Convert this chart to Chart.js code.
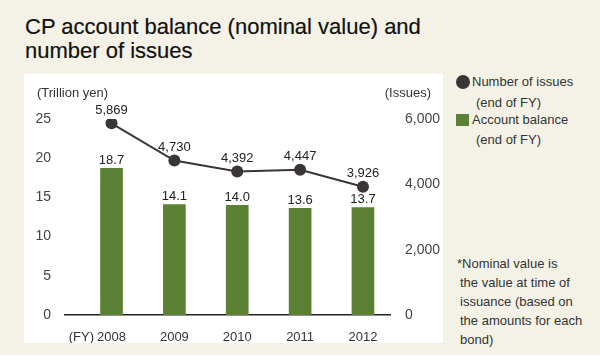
<!DOCTYPE html>
<html>
<head>
<meta charset="utf-8">
<script src="https://cdn.jsdelivr.net/npm/chart.js@4"></script>
<style>
  body { margin: 0; width: 600px; height: 355px; background: #f4f2e6; font-family: "Liberation Sans", Arial, sans-serif; position: relative; overflow: hidden; }
  #title { position: absolute; left: 25px; top: 15px; font-size: 22px; line-height: 24px; color: #111; -webkit-text-stroke: 0.2px #111; }
  #panel { position: absolute; left: 24px; top: 74px; width: 419px; height: 269px; background: #fff; }
  .txt { position: absolute; font-size: 13px; line-height: 19px; color: #333; white-space: nowrap; }
  .dot { position: absolute; left: 456px; top: 75px; width: 14px; height: 14px; border-radius: 50%; background: #3a3536; }
  .sq { position: absolute; left: 456px; top: 114px; width: 13px; height: 12px; background: #5b7f33; }
  #note span { display: block; padding-left: 3px; }
  #note span:first-child { padding-left: 0; }
</style>
</head>
<body>
<div id="title">CP account balance (nominal value) and<br>number of issues</div>
<div id="panel"><canvas id="chart" width="419" height="269"></canvas></div>

<div class="dot"></div>
<div class="txt" style="left:472px; top:72px;">Number of issues</div>
<div class="txt" style="left:476px; top:93px;">(end of FY)</div>
<div class="sq"></div>
<div class="txt" style="left:472px; top:110px;">Account balance</div>
<div class="txt" style="left:476px; top:130px;">(end of FY)</div>

<div class="txt" id="note" style="left:457px; top:254px;">
  <span>*Nominal value is</span>
  <span>the value at time of</span>
  <span>issuance (based on</span>
  <span>the amounts for each</span>
  <span>bond)</span>
</div>

<script>
// data
const years = [2008, 2009, 2010, 2011, 2012];
const balance = [18.7, 14.1, 14.0, 13.6, 13.7];   // trillion yen
const issues = [5869, 4730, 4392, 4447, 3926];     // number of issues
const fyLabelPos = 2007.52;

const green = '#5b7f33';
const dark = '#3a3536';

// value labels + axis unit titles
const labelPlugin = {
  id: 'valueLabels',
  afterDatasetsDraw(chart) {
    const ctx = chart.ctx;
    ctx.save();
    ctx.font = '13px "Liberation Sans", Arial, sans-serif';
    ctx.fillStyle = '#222';
    ctx.textAlign = 'center';
    ctx.textBaseline = 'middle';

    chart.getDatasetMeta(1).data.forEach((bar, i) => {
      ctx.fillText(balance[i].toFixed(1), bar.x, bar.y - 8);
    });
    chart.getDatasetMeta(0).data.forEach((pt, i) => {
      ctx.fillText(issues[i].toLocaleString('en-US'), pt.x, pt.y - 13);
    });

    ctx.fillStyle = '#333';
    ctx.textAlign = 'left';
    ctx.fillText('(Trillion yen)', 13, 19);
    ctx.textAlign = 'right';
    ctx.fillText('(Issues)', 407, 19);
    ctx.restore();
  }
};

const tickFont = { family: '"Liberation Sans", Arial, sans-serif', size: 13 };
const yTickFont = { family: '"Liberation Sans", Arial, sans-serif', size: 14 };

new Chart(document.getElementById('chart'), {
  data: {
    labels: years,
    datasets: [
      {
        type: 'line',
        label: 'Number of issues',
        data: issues,
        yAxisID: 'y2',
        borderColor: dark,
        borderWidth: 2,
        pointRadius: 6,
        pointBackgroundColor: dark,
        pointBorderWidth: 0,
        order: 0
      },
      {
        type: 'bar',
        label: 'Account balance',
        data: balance,
        yAxisID: 'y',
        backgroundColor: green,
        barThickness: 22,
        order: 1
      }
    ]
  },
  options: {
    responsive: false,
    animation: false,
    layout: { padding: { top: 45, left: 0, right: 0, bottom: 0 } },
    plugins: { legend: { display: false }, tooltip: { enabled: false } },
    scales: {
      x: {
        type: 'linear',
        min: 2007.26,
        max: 2012.43,
        offset: false,
        grid: { display: false },
        border: { display: true, color: '#222', width: 1.5 },
        afterBuildTicks: (scale) => {
          scale.ticks = [fyLabelPos].concat(years).map(v => ({ value: v }));
        },
        afterFit: (scale) => { scale.height = 28; },
        ticks: {
          autoSkip: false,
          maxRotation: 0,
          padding: 7,
          color: '#333',
          font: tickFont,
          callback: (v) => v === fyLabelPos ? '(FY)' : String(v)
        }
      },
      y: {
        position: 'left',
        min: 0,
        max: 25,
        grid: { display: false },
        border: { display: false },
        afterFit: (scale) => { scale.width = 41; },
        ticks: { stepSize: 5, padding: 6, color: '#444', font: yTickFont }
      },
      y2: {
        position: 'right',
        min: 0,
        max: 6000,
        grid: { display: false },
        border: { display: false },
        afterFit: (scale) => { scale.width = 53; },
        ticks: {
          stepSize: 2000,
          padding: 7,
          color: '#444',
          font: yTickFont,
          callback: (v) => v.toLocaleString('en-US')
        }
      }
    }
  },
  plugins: [labelPlugin]
});
</script>
</body>
</html>
